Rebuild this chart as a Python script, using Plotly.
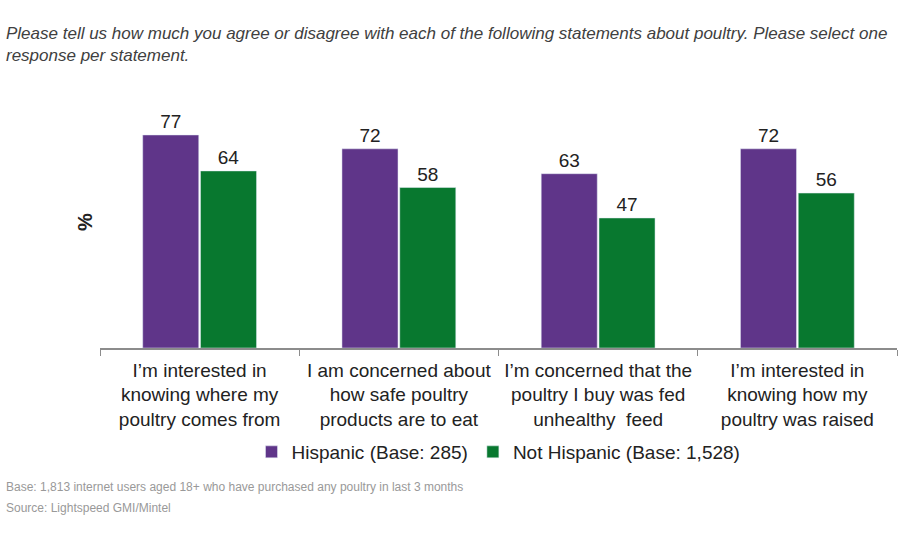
import plotly.graph_objects as go

categories = [
    "I’m interested in<br>knowing where my<br>poultry comes from",
    "I am concerned about<br>how safe poultry<br>products are to eat",
    "I’m concerned that the<br>poultry I buy was fed<br>unhealthy  feed",
    "I’m interested in<br>knowing how my<br>poultry was raised",
]
hispanic = [77, 72, 63, 72]
not_hispanic = [64, 58, 47, 56]
series_names = ["Hispanic (Base: 285)", "Not Hispanic (Base: 1,528)"]
colors = ["#5F3589", "#08782F"]

W, H = 900, 550
L, R, T, B = 100, 3, 99, 202
plot_h = H - T - B
plot_w = W - L - R

fig = go.Figure()
for name, vals, col in zip(series_names, [hispanic, not_hispanic], colors):
    fig.add_trace(go.Bar(
        x=categories, y=vals, name=name, marker_color=col,
        text=[str(v) for v in vals], textposition="outside",
        textfont=dict(size=19, color="#222222", family="Liberation Sans"),
        cliponaxis=False,
    ))

def py(ypix):
    return (H - B - ypix) / plot_h

def px(xpix):
    return (xpix - L) / plot_w

fig.update_layout(
    width=W, height=H,
    margin=dict(l=L, r=R, t=T, b=B),
    plot_bgcolor="white", paper_bgcolor="white",
    barmode="group", bargap=0.42, bargroupgap=0.03,
    font=dict(family="Liberation Sans", color="#222222"),
    xaxis=dict(
        showline=True, linecolor="#8C8C8C", linewidth=1.5,
        ticks="outside", tickson="boundaries", ticklen=6, tickcolor="#8C8C8C",
        tickfont=dict(size=19, color="#222222"),
        ticklabelstandoff=4,
        showgrid=False,
    ),
    yaxis=dict(
        range=[0, 90], showticklabels=False, showgrid=False, zeroline=False,
        showline=False, title=None,
    ),
    legend=dict(
        orientation="h", x=0.5, xanchor="center", y=py(452), yanchor="middle",
        font=dict(size=19, color="#222222"), itemwidth=30,
    ),
    showlegend=True,
    annotations=[
        dict(text="<i>Please tell us how much you agree or disagree with each of the following statements about poultry. Please select one</i><br><i>response per statement.</i>",
             xref="paper", yref="paper", x=px(4), y=py(22), xanchor="left", yanchor="top",
             align="left", showarrow=False,
             font=dict(size=17, color="#404040", family="Liberation Sans")),
        dict(text="<b>%</b>", xref="paper", yref="paper", x=px(85), y=py(222),
             xanchor="center", yanchor="middle", textangle=-90, showarrow=False,
             font=dict(size=20, color="#222222")),
        dict(text="Base: 1,813 internet users aged 18+ who have purchased any poultry in last 3 months",
             xref="paper", yref="paper", x=px(4), y=py(487), xanchor="left", yanchor="middle",
             showarrow=False, font=dict(size=12, color="#999999")),
        dict(text="Source: Lightspeed GMI/Mintel",
             xref="paper", yref="paper", x=px(4), y=py(508), xanchor="left", yanchor="middle",
             showarrow=False, font=dict(size=12, color="#999999")),
    ],
)

fig.write_html("out.html")
